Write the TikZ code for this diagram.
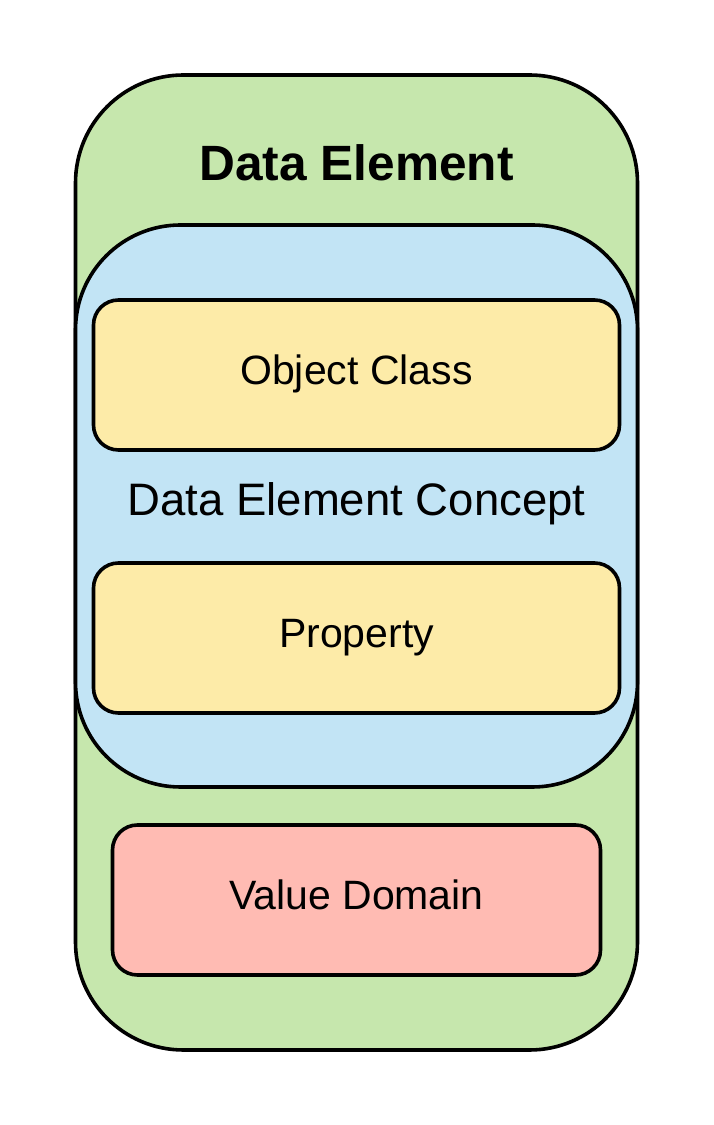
\documentclass[tikz,border=0pt]{standalone}
\usepackage{fontspec}
\setmainfont{Liberation Sans}
\usetikzlibrary{positioning}

\definecolor{deGreen}{RGB}{198,231,173}
\definecolor{decBlue}{RGB}{194,228,245}
\definecolor{partYellow}{RGB}{253,235,168}
\definecolor{vdRed}{RGB}{255,187,179}

\begin{document}
\begin{tikzpicture}[x=1pt,y=1pt,
        box/.style={draw,line width=3.6pt,rectangle,outer sep=0pt,inner sep=0pt,
          text height=29.4pt,text depth=10pt,font=\fontsize{41}{49}\selectfont},
        big/.style={box,rounded corners=108pt},
        part/.style={box,rounded corners=25pt,minimum height=150pt},
        caption/.style={inner sep=0pt,outer sep=0pt,text depth=0pt}]
   \useasboundingbox (0,0) rectangle (713,1125);

   \node[big,fill=deGreen,minimum width=562pt,minimum height=975pt] (DE) at (356.5,562.5) {};
   \node[caption,text height=35.5pt,font=\fontsize{49.6}{58}\selectfont\bfseries] (T) [below=70pt of DE.north] {Data Element};

   \node[big,rounded corners=105pt,fill=decBlue,minimum width=562pt,minimum height=562pt] (DEC) [below=150pt of DE.north] {};
   \node[part,fill=partYellow,minimum width=526pt] (OC) [below=75pt of DEC.north] {Object Class};
   \node[caption,text height=32.6pt,font=\fontsize{45.5}{54}\selectfont] (C) [below=33pt of OC] {Data Element Concept};
   \node[part,fill=partYellow,minimum width=526pt] (P) [below=113pt of OC] {Property};

   \node[part,fill=vdRed,minimum width=488pt] (VD) [below=112pt of P] {Value Domain};

\end{tikzpicture}
\end{document}
